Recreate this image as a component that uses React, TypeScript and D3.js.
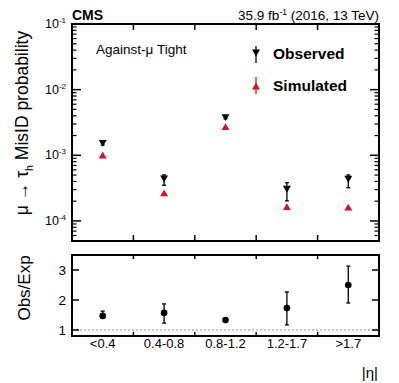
import React from "react";
import * as d3 from "d3";

const categories = ["<0.4", "0.4-0.8", "0.8-1.2", "1.2-1.7", ">1.7"];
const observed = [1.52e-3, 4.36e-4, 3.74e-3, 3.04e-4, 4.32e-4];
const observedUp = [1.62e-3, 5.02e-4, 3.9e-3, 3.83e-4, 5.02e-4];
const observedDown = [1.43e-3, 3.5e-4, 3.6e-3, 2.02e-4, 3.21e-4];
const simulated = [1.01e-3, 2.67e-4, 2.73e-3, 1.65e-4, 1.62e-4];
const ratio = [1.47, 1.57, 1.33, 1.73, 2.5];
const ratioUp = [1.63, 1.87, 1.36, 2.27, 3.13];
const ratioDown = [1.4, 1.23, 1.3, 1.17, 1.9];
const mainTicks = [1e-4, 1e-3, 1e-2, 1e-1];
const ratioTicks = [1, 2, 3];

const FONT = "Liberation Sans, Arial, Helvetica, sans-serif";

export default function App() {
  const L = 72, R = 379;
  const mT = 24, mB = 241;
  const rT = 255, rB = 336;
  const x = d3.scaleBand<string>().domain(categories).range([L, R]);
  const y = d3.scaleLog().domain([4.95e-5, 0.1]).range([mB, mT]);
  const yr = d3.scaleLinear().domain([0.8, 3.5]).range([rB, rT]);
  const cx = (c: string) => (x(c) as number) + x.bandwidth() / 2;

  const minor: number[] = [];
  for (let e = -5; e <= -2; e++) {
    for (let k = 2; k <= 9; k++) {
      const v = k * Math.pow(10, e);
      if (v > 4.95e-5 && v < 0.1) minor.push(v);
    }
  }
  const edges = categories.slice(1).map((c) => x(c) as number);

  const tri = (px: number, py: number, down: boolean, s = 4) =>
    down
      ? `M${px - s},${py - s * 0.85} L${px + s},${py - s * 0.85} L${px},${py + s * 0.85} Z`
      : `M${px - s},${py + s * 0.85} L${px + s},${py + s * 0.85} L${px},${py - s * 0.85} Z`;

  const red = "#d7132c";

  return (
    <svg width={399} height={383} style={{ display: "block", position: "absolute", left: 0, top: 0 }} fontFamily={FONT}>
      <rect width={399} height={383} fill="white" />
      {/* main panel ticks */}
      {mainTicks.map((t) => (
        <g key={"mt" + t}>
          <line x1={L} x2={L + 9} y1={y(t)} y2={y(t)} stroke="black" strokeWidth={1.5} />
          <line x1={R} x2={R - 9} y1={y(t)} y2={y(t)} stroke="black" strokeWidth={1.5} />
          <text x={L - 6} y={y(t) + 4} textAnchor="end" fontSize={12.5} fill="black">
            10<tspan dy={-5} fontSize={8}>{Math.round(Math.log10(t))}</tspan>
          </text>
        </g>
      ))}
      {minor.map((t, i) => (
        <g key={"mn" + i}>
          <line x1={L} x2={L + 4.5} y1={y(t)} y2={y(t)} stroke="black" strokeWidth={1.2} />
          <line x1={R} x2={R - 4.5} y1={y(t)} y2={y(t)} stroke="black" strokeWidth={1.2} />
        </g>
      ))}
      {edges.map((ex, i) => (
        <g key={"ed" + i}>
          <line x1={ex} x2={ex} y1={mT} y2={mT + 6} stroke="black" strokeWidth={1.5} />
          <line x1={ex} x2={ex} y1={mB} y2={mB - 6} stroke="black" strokeWidth={1.5} />
          <line x1={ex} x2={ex} y1={rT} y2={rT + 4} stroke="black" strokeWidth={1.5} />
          <line x1={ex} x2={ex} y1={rB} y2={rB - 4} stroke="black" strokeWidth={1.5} />
        </g>
      ))}
      <rect x={L} y={mT} width={R - L} height={mB - mT} fill="none" stroke="black" strokeWidth={2} />

      {/* main data */}
      {categories.map((c, i) => (
        <g key={"d" + i}>
          <line x1={cx(c)} x2={cx(c)} y1={y(observedUp[i])} y2={y(observedDown[i])} stroke="black" strokeWidth={1.3} />
          <line x1={cx(c) - 2} x2={cx(c) + 2} y1={y(observedUp[i])} y2={y(observedUp[i])} stroke="black" strokeWidth={1.3} />
          <line x1={cx(c) - 2} x2={cx(c) + 2} y1={y(observedDown[i])} y2={y(observedDown[i])} stroke="black" strokeWidth={1.3} />
          <path d={tri(cx(c), y(observed[i]), true)} fill="black" />
          <path d={tri(cx(c), y(simulated[i]), false)} fill={red} />
        </g>
      ))}

      {/* texts */}
      <text x={L} y={19.5} fontSize={14} fontWeight="bold" fill="black">CMS</text>
      <text x={R} y={19.5} fontSize={13.5} textAnchor="end" fill="black">
        35.9 fb<tspan dy={-4.5} fontSize={8.5}>-1</tspan><tspan dy={4.5}> (2016, 13 TeV)</tspan>
      </text>
      <text x={96} y={54} fontSize={13.5} fill="black">Against-μ Tight</text>
      {/* legend */}
      <line x1={256} x2={256} y1={46} y2={63} stroke="black" strokeWidth={1.3} />
      <path d={tri(256, 53, true)} fill="black" />
      <text x={273} y={59} fontSize={15.5} fontWeight="bold" fill="black">Observed</text>
      <line x1={256} x2={256} y1={77} y2={94} stroke={red} strokeWidth={1.3} />
      <path d={tri(256, 86, false)} fill={red} />
      <text x={273} y={91} fontSize={15.5} fontWeight="bold" fill="black">Simulated</text>

      {/* y title */}
      <text transform={`translate(28,${123}) rotate(-90)`} textAnchor="middle" fontSize={17.5} fill="black">
        μ → τ<tspan dy={5} fontSize={10.5}>h</tspan><tspan dy={-5}> MisID probability</tspan>
      </text>

      {/* ratio panel */}
      <line x1={L} x2={R} y1={yr(1)} y2={yr(1)} stroke="#888" strokeWidth={1.2} strokeDasharray="2,2" />
      {ratioTicks.map((t) => (
        <g key={"rt" + t}>
          <line x1={L} x2={L + 7} y1={yr(t)} y2={yr(t)} stroke="black" strokeWidth={1.5} />
          <line x1={R} x2={R - 7} y1={yr(t)} y2={yr(t)} stroke="black" strokeWidth={1.5} />
          <text x={L - 6} y={yr(t) + 5} textAnchor="end" fontSize={13.5} fill="black">{t}</text>
        </g>
      ))}
      <rect x={L} y={rT} width={R - L} height={rB - rT} fill="none" stroke="black" strokeWidth={2} />
      {categories.map((c, i) => (
        <g key={"r" + i}>
          <line x1={cx(c)} x2={cx(c)} y1={yr(ratioUp[i])} y2={yr(ratioDown[i])} stroke="black" strokeWidth={1.3} />
          <line x1={cx(c) - 2} x2={cx(c) + 2} y1={yr(ratioUp[i])} y2={yr(ratioUp[i])} stroke="black" strokeWidth={1.3} />
          <line x1={cx(c) - 2} x2={cx(c) + 2} y1={yr(ratioDown[i])} y2={yr(ratioDown[i])} stroke="black" strokeWidth={1.3} />
          <circle cx={cx(c)} cy={yr(ratio[i])} r={3.3} fill="black" />
          <text x={cx(c)} y={348} textAnchor="middle" fontSize={13} fill="black">{c}</text>
        </g>
      ))}
      <text transform={`translate(30,${288}) rotate(-90)`} textAnchor="middle" fontSize={17} fill="black">Obs/Exp</text>
      <text x={378} y={378} textAnchor="end" fontSize={15} fill="black">|η|</text>
    </svg>
  );
}
